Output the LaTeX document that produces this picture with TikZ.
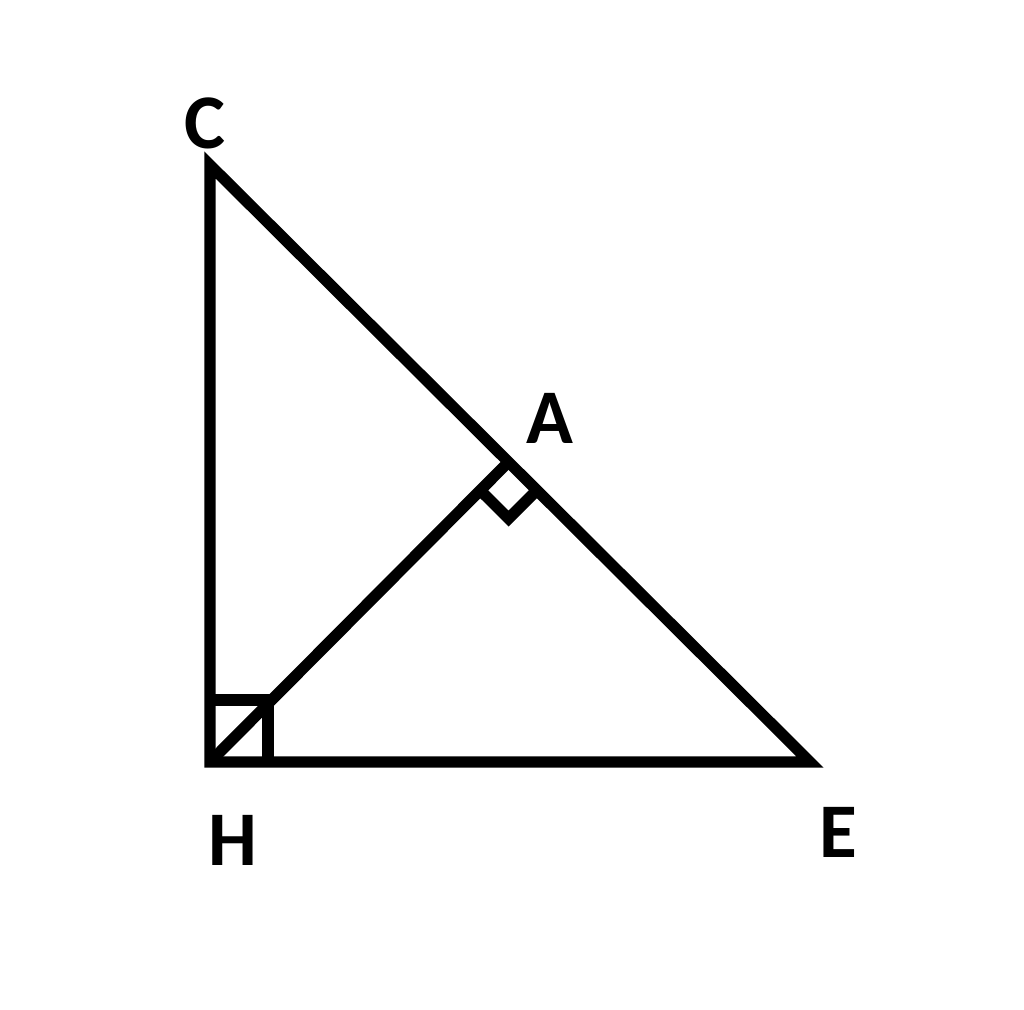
\documentclass[tikz,border=0pt]{standalone}
\usepackage{fontspec}
\setmainfont{Carlito}
\usetikzlibrary{calc}

\begin{document}
\begin{tikzpicture}[line width=3.2pt, line join=miter,
  letter/.style={font=\fontsize{22}{26}\selectfont\bfseries, inner sep=0pt}]
\useasboundingbox (0,0) rectangle (10.24,10.09);
\coordinate (C) at (2.10, 8.44);
\coordinate (H) at (2.10, 2.47);
\coordinate (E) at (8.10, 2.47);
\coordinate (A) at ($(C)!(H)!(E)$);
\draw (C) -- (H) -- (E) -- cycle;
\draw (H) -- (A);
% right angle marks
\draw (2.10,3.09) -- (2.68,3.09) -- (2.68,2.47);
\draw ($(A)!0.40cm!(H)$) -- ($(A)!0.40cm!(H)+(A)!0.40cm!(E)-(A)$) -- ($(A)!0.40cm!(E)$);
\node[letter] (lC) at (2.05, 8.86) {C};
\node[letter] (lA) at (5.50, 5.91) {A};
\node[letter] (lH) at (2.33, 1.69) {H};
\node[letter] (lE) at (8.38, 1.77) {E};
\end{tikzpicture}
\end{document}
